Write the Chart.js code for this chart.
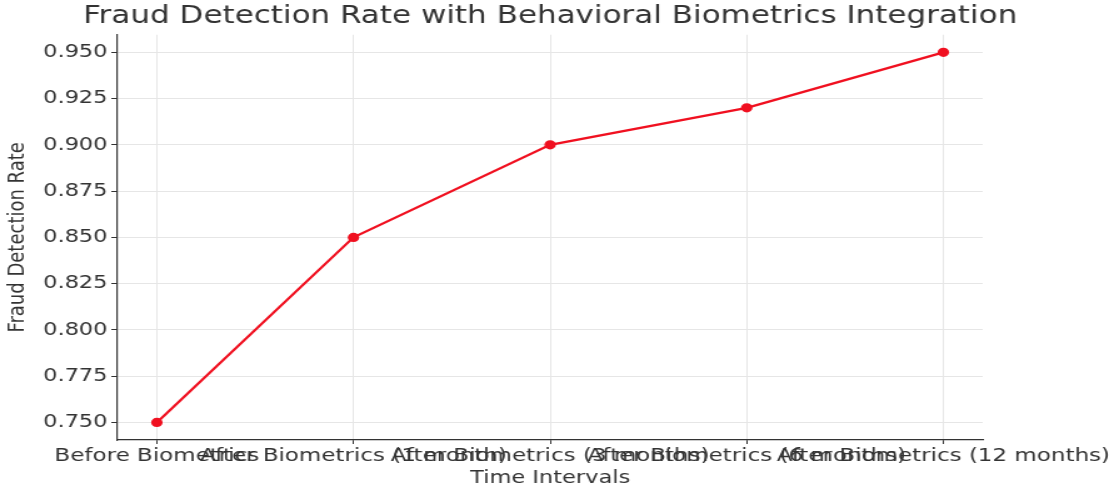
<!DOCTYPE html>
<html>
<head>
<meta charset="utf-8">
<script src="https://cdn.jsdelivr.net/npm/chart.js@4"></script>
<style>
  html, body { margin: 0; padding: 0; background: #fff; overflow: hidden; }
  #rateChart { display: block; }
</style>
</head>
<body>
<!-- drawn at 895 wide, shown stretched to the full window -->
<canvas id="rateChart" width="895" height="489" style="width:1119px;height:489px"></canvas>
<script>
// Fraud detection rate over time

const intervals = [
	"Before Biometrics",
	"After Biometrics (1 month)",
	"After Biometrics (3 months)",
	"After Biometrics (6 months)",
	"After Biometrics (12 months)",
];

const detectionRate = [0.75, 0.85, 0.9, 0.92, 0.95];

const yTicks = [0.75, 0.775, 0.8, 0.825, 0.85, 0.875, 0.9, 0.925, 0.95];

const FONT = "'DejaVu Sans', sans-serif";
const INK = "#333";

const data = {
	datasets: [
		{
			label: "Fraud Detection Rate",
			data: detectionRate.map((v, i) => ({ x: i, y: v })),
			borderColor: "#f01020",
			backgroundColor: "#f01020",
			borderWidth: 2.2,
			pointRadius: 3.5,
			pointHoverRadius: 3.5,
			tension: 0,
		},
	],
};

const config = {
	type: "line",
	data: data,
	options: {
		responsive: false,
		animation: false,
		events: [],
		layout: { padding: { left: 0, right: 15, top: 0, bottom: 0 } },
		plugins: {
			legend: { display: false },
			tooltip: { enabled: false },
			title: {
				display: true,
				text: "Fraud Detection Rate with Behavioral Biometrics Integration",
				color: INK,
				font: { family: FONT, size: 24.8, weight: "normal" },
				padding: { top: 2, bottom: 3 },
			},
		},
		scales: {
			x: {
				type: "linear",
				min: -0.2,
				max: 4.2,
				afterBuildTicks: (scale) => {
					scale.ticks = intervals.map((_, i) => ({ value: i }));
				},
				afterFit: (scale) => { scale.height = 49; },
				ticks: {
					autoSkip: false,
					maxRotation: 0,
					minRotation: 0,
					padding: 1,
					color: INK,
					font: { family: FONT, size: 18.4 },
					callback: (v) => intervals[v],
				},
				grid: { color: "#e6e6e6", tickColor: INK, tickLength: 4, lineWidth: 1 },
				border: { display: true, color: INK, width: 1.2 },
				title: {
					display: true,
					text: "Time Intervals",
					color: INK,
					font: { family: FONT, size: 18 },
					padding: { top: 0, bottom: 0 },
				},
			},
			y: {
				min: 0.7405,
				max: 0.9595,
				afterBuildTicks: (scale) => {
					scale.ticks = yTicks.map((v) => ({ value: v }));
				},
				afterFit: (scale) => { scale.width = 94; },
				ticks: {
					padding: 3,
					color: INK,
					font: { family: FONT, size: 18 },
					callback: (v) => v.toFixed(3),
				},
				grid: { color: "#e6e6e6", tickColor: INK, tickLength: 5, lineWidth: 1 },
				border: { display: true, color: INK, width: 1.2 },
				title: {
					display: true,
					text: "Fraud Detection Rate",
					color: INK,
					font: { family: FONT, size: 18 },
					padding: { top: 4, bottom: 0 },
				},
			},
			// empty right-hand gutter so the title centres over the plot
			gutter: {
				position: "right",
				afterFit: (scale) => { scale.width = 94; },
				ticks: { display: false },
				grid: { display: false },
				border: { display: false },
			},
		},
	},
};

const RateChart = new Chart(document.getElementById("rateChart"), config);
</script>
</body>
</html>
